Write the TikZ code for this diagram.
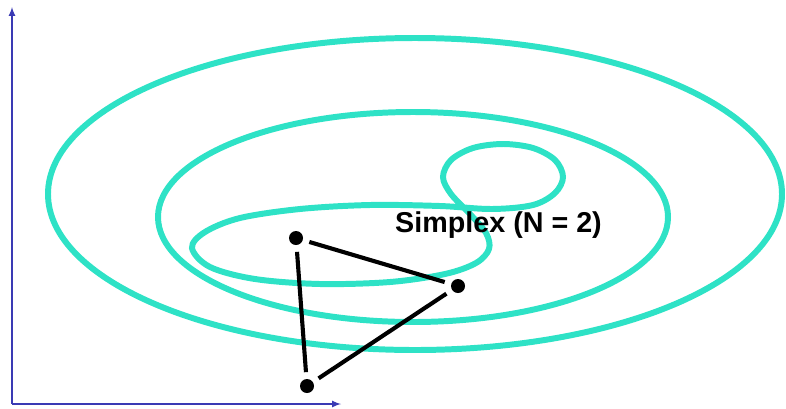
\documentclass[tikz,border=0pt]{standalone}
\usepackage{xcolor}
\usepackage{fontspec}
\setmainfont{Liberation Sans}
\usepackage{tikz}
\definecolor{NMContour}{HTML}{2EE2C6}
\definecolor{NMAxis}{HTML}{3A3AB4}
\tikzset{
  contour/.style={NMContour,line width=5.1pt},
  vertex/.style={circle,fill=black,inner sep=0pt,minimum size=0.42cm},
  simplexedge/.style={black,line width=3.5pt,shorten <=0.2cm,shorten >=0.2cm},
  axisline/.style={NMAxis,line width=1.6pt,-latex}
}

\begin{document}
\begin{tikzpicture}[x=0.03cm,y=-0.03cm]
\path[use as bounding box] (0,0) rectangle (786,408);
% axes
\coordinate (origin) at (12,404);
\coordinate (ytip) at (12,7);
\coordinate (xtip) at (341,404);
\draw[axisline] (origin) -- (ytip);
\draw[axisline] (origin) -- (xtip);
% contours
\draw[contour] (415,194) ellipse (367 and 156);
\draw[contour] (413,217) ellipse (255 and 105);
\draw[contour] plot[smooth cycle,tension=0.55] coordinates {
  (192,248) (205,232) (240,218) (300,209) (370,205) (440,206) (492,209)
  (533,205) (555,193) (563,177) (555,160) (533,148) (503,144) (473,148)
  (451,160) (443,177) (451,194) (470,214) (486,233) (489,249) (476,263)
  (445,274) (390,282) (320,284) (255,279) (210,267)};
% simplex
\node[vertex] (v1) at (296,238) {};
\node[vertex] (v2) at (458,286) {};
\node[vertex] (v3) at (307,386) {};
\draw[simplexedge] (v1) -- (v2);
\draw[simplexedge] (v1) -- (v3);
\draw[simplexedge] (v2) -- (v3);
\node[anchor=base west,inner sep=0pt] (label) at (395,232) {\fontsize{24.5}{30}\selectfont\bfseries Simplex (N = 2)};
\end{tikzpicture}
\end{document}
